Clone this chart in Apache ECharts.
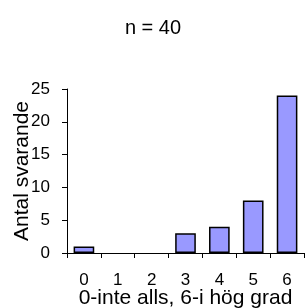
<!DOCTYPE html>
<html><head><meta charset="utf-8">
<script src="https://cdn.jsdelivr.net/npm/echarts@6/dist/echarts.min.js"></script>
<style>html,body{margin:0;padding:0;background:#fff}#c{width:306px;height:308px}</style>
</head><body><div id="c"></div>
<script>
var categories = ['0','1','2','3','4','5','6'];
var values = [1,0,0,3,4,8,24];
var yTicks = [0,5,10,15,20,25];
var title = 'n = 40';
var xName = '0-inte alls, 6-i hög grad';
var yName = 'Antal svarande';

var chart = echarts.init(document.getElementById('c'), null, {renderer:'canvas'});
var font = '"Liberation Sans", Arial, sans-serif';
chart.setOption({
  animation:false,
  title:{text:title,left:'center',top:13,textStyle:{fontFamily:font,fontSize:20,fontWeight:'normal',color:'#000'}},
  grid:{left:67,right:2,top:89,bottom:55,containLabel:false,outerBoundsMode:'none'},
  xAxis:{type:'category',data:categories,
    name:xName,nameLocation:'middle',nameGap:35,nameMoveOverlap:false,
    nameTextStyle:{fontFamily:font,fontSize:21,color:'#000'},
    axisLine:{lineStyle:{color:'#000',width:1}},
    axisTick:{show:true,length:5,lineStyle:{color:'#000'}},
    axisLabel:{margin:19,fontFamily:font,fontSize:17,color:'#000'}},
  yAxis:{type:'value',min:yTicks[0],max:yTicks[yTicks.length-1],interval:5,
    name:yName,nameLocation:'middle',nameGap:34,nameMoveOverlap:false,
    nameTextStyle:{fontFamily:font,fontSize:21,color:'#000'},
    axisLine:{show:true,lineStyle:{color:'#000',width:1}},
    axisTick:{show:true,length:5,lineStyle:{color:'#000'}},
    splitLine:{show:false},
    axisLabel:{margin:17,fontFamily:font,fontSize:17,color:'#000'}},
  series:[{type:'bar',data:values.map(function(v){return v===0?'-':v;}),barCategoryGap:'39%',
    itemStyle:{color:'#9999FF',borderColor:'#000',borderWidth:1.5}}]
});
</script></body></html>
